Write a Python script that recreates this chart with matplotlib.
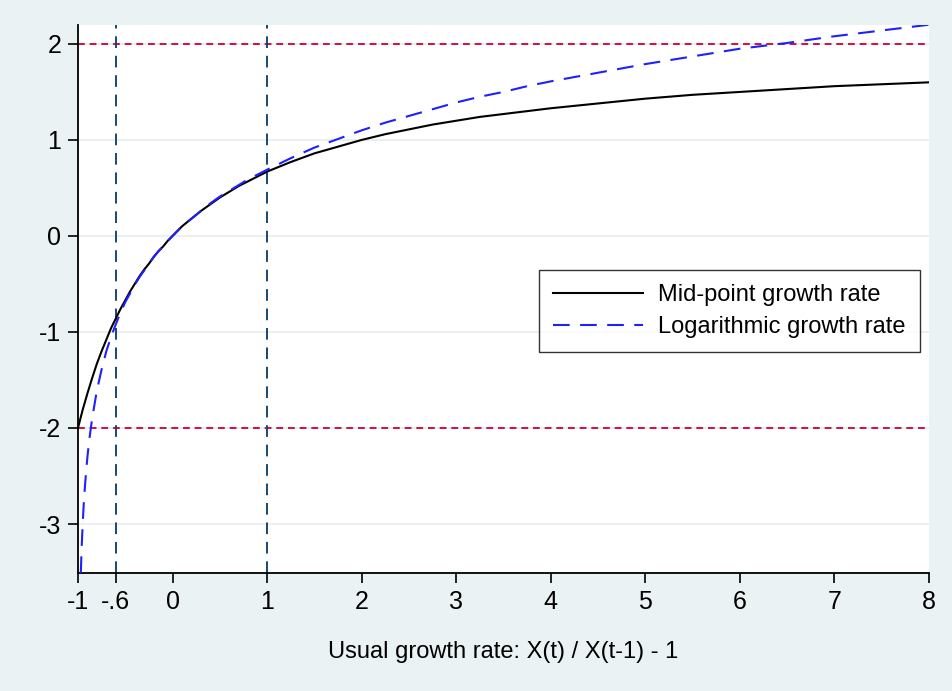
import matplotlib
matplotlib.use("Agg")
import matplotlib.pyplot as plt

plt.rcParams['font.family'] = ['Liberation Sans', 'DejaVu Sans']
plt.rcParams['axes.unicode_minus'] = False

# usual growth rate g on the x axis
g_mid = [-1.00, -0.95, -0.90, -0.85, -0.80, -0.75, -0.70, -0.65, -0.60, -0.55,
         -0.50, -0.45, -0.40, -0.35, -0.30, -0.25, -0.20, -0.15, -0.10, -0.05,
         0.00, 0.10, 0.20, 0.30, 0.40, 0.50, 0.60, 0.70, 0.80, 0.90,
         1.00, 1.25, 1.50, 1.75, 2.00, 2.25, 2.50, 2.75, 3.00, 3.25,
         3.50, 3.75, 4.00, 4.50, 5.00, 5.50, 6.00, 6.50, 7.00, 7.50, 8.00]
mid_rate = [-2.00, -1.81, -1.64, -1.48, -1.33, -1.20, -1.08, -0.96, -0.86, -0.76,
            -0.67, -0.58, -0.50, -0.42, -0.35, -0.29, -0.22, -0.16, -0.11, -0.05,
            0.00, 0.10, 0.18, 0.26, 0.33, 0.40, 0.46, 0.52, 0.57, 0.62,
            0.67, 0.77, 0.86, 0.93, 1.00, 1.06, 1.11, 1.16, 1.20, 1.24,
            1.27, 1.30, 1.33, 1.38, 1.43, 1.47, 1.50, 1.53, 1.56, 1.58, 1.60]

g_log = [-0.97, -0.96, -0.95, -0.94, -0.93, -0.92, -0.90, -0.88, -0.85, -0.80,
         -0.75, -0.70, -0.65, -0.60, -0.55, -0.50, -0.45, -0.40, -0.35, -0.30,
         -0.25, -0.20, -0.15, -0.10, -0.05, 0.00, 0.10, 0.20, 0.30, 0.40,
         0.50, 0.60, 0.70, 0.80, 0.90, 1.00, 1.25, 1.50, 1.75, 2.00,
         2.25, 2.50, 2.75, 3.00, 3.25, 3.50, 3.75, 4.00, 4.50, 5.00,
         5.50, 6.00, 6.50, 7.00, 7.50, 8.00]
log_rate = [-3.51, -3.22, -3.00, -2.81, -2.66, -2.53, -2.30, -2.12, -1.90, -1.61,
            -1.39, -1.20, -1.05, -0.92, -0.80, -0.69, -0.60, -0.51, -0.43, -0.36,
            -0.29, -0.22, -0.16, -0.11, -0.05, 0.00, 0.10, 0.18, 0.26, 0.34,
            0.41, 0.47, 0.53, 0.59, 0.64, 0.69, 0.81, 0.92, 1.01, 1.10,
            1.18, 1.25, 1.32, 1.39, 1.45, 1.50, 1.56, 1.61, 1.70, 1.79,
            1.87, 1.95, 2.01, 2.08, 2.14, 2.20]

x_ticks = [-1, -0.6, 0, 1, 2, 3, 4, 5, 6, 7, 8]
x_tick_labels = ['-1', '-.6', '0', '1', '2', '3', '4', '5', '6', '7', '8']
y_ticks = [-3, -2, -1, 0, 1, 2]
ref_y = [-2, 2]
ref_x = [-0.6, 1]

bg = '#eaf2f3'
fig = plt.figure(figsize=(9.52, 6.91), dpi=100, facecolor=bg)
ax = fig.add_axes([0.0819, 0.1708, 0.8939, 0.7930])
ax.set_facecolor('white')

for y in y_ticks:
    ax.axhline(y, color='#e6eef0', lw=1.2, zorder=0)

ax.plot(g_mid, mid_rate, color='black', lw=1.5, label='Mid-point growth rate', zorder=3)
ax.plot(g_log, log_rate, color='#1f1fff', lw=1.5, dashes=(8, 5),
        label='Logarithmic growth rate', zorder=3)

for y in ref_y:
    ax.axhline(y, color='#cf1040', lw=1.4, dashes=(3.5, 2.5), zorder=2)
for x in ref_x:
    ax.axvline(x, color='#1a476f', lw=1.4, dashes=(6, 4), zorder=2)

ax.set_xlim(-1, 8)
ax.set_ylim(-3.51, 2.197)
ax.set_xticks(x_ticks)
ax.set_xticklabels(x_tick_labels)
ax.set_yticks(y_ticks)
ax.tick_params(axis='both', labelsize=18, length=7, width=1.2, direction='out', pad=5)

for side in ['top', 'right']:
    ax.spines[side].set_visible(False)
for side in ['left', 'bottom']:
    ax.spines[side].set_linewidth(1.3)

ax.set_xlabel('Usual growth rate: X(t) / X(t-1) - 1', fontsize=17, labelpad=20)

leg = ax.legend(loc='upper right', bbox_to_anchor=(0.9894, 0.553), borderaxespad=0,
                fontsize=17, frameon=True, fancybox=False, edgecolor='black',
                handlelength=3.8, borderpad=0.6, labelspacing=0.42, handletextpad=0.65)
leg.get_frame().set_linewidth(1.0)

fig.savefig('out.png', dpi=100, facecolor=bg)
